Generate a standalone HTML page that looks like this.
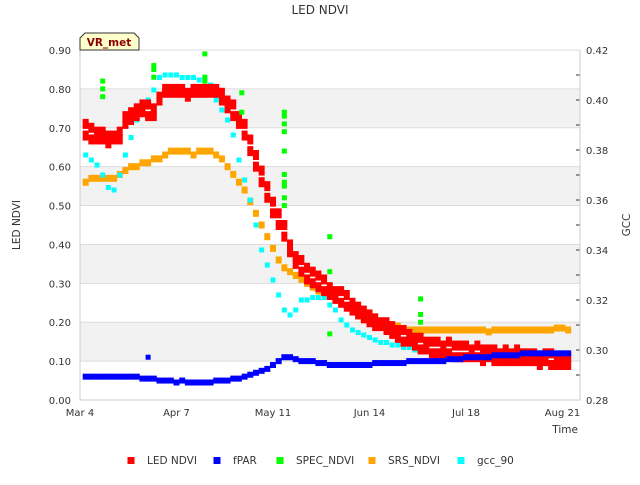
<!DOCTYPE html>
<html><head><meta charset="utf-8"><style>
body{margin:0;background:#fff;}
svg{font-family:"DejaVu Sans","Liberation Sans",sans-serif;}
</style></head><body>
<svg id="chart" width="640" height="480" viewBox="0 0 640 480">
<text x="320" y="14" text-anchor="middle" font-size="12" fill="#333">LED NDVI</text>
<g id="bands"></g>
<g id="grid"></g>
<g id="marks"></g>
<g id="axes"></g>
<text x="20" y="225" transform="rotate(-90 20 225)" text-anchor="middle" font-size="10.5" fill="#333">LED NDVI</text>
<text x="630" y="225" transform="rotate(-90 630 225)" text-anchor="middle" font-size="10.5" fill="#333">GCC</text>
<text x="578" y="433" text-anchor="end" font-size="10.5" fill="#333">Time</text>
<g>
<path d="M80,50 L80,38 L85,33 L134,33 L139,38 L139,50 Z" fill="#ffffcc" stroke="#333" stroke-width="1"/>
<text x="109" y="46" text-anchor="middle" font-size="10.5" font-weight="bold" fill="#8b0000">VR_met</text>
</g>
<g id="legend"></g>
</svg>
<script>
const ledNdvi=[null,.71,.70,.69,.69,.68,.68,.69,.73,.74,.75,.76,.76,.75,.78,.80,.80,.80,.80,.79,.80,.80,.80,.80,.80,.79,.77,.76,.73,.71,.67,.63,.59,.55,.51,.48,.45,.40,.37,.36,.34,.33,.32,.31,.29,.28,.28,.27,.25,.24,.23,.22,.21,.20,.20,.19,.18,.18,.17,.16,.16,.15,.15,.15,.14,.15,.14,.14,.14,.13,.14,.13,.13,.13,.12,.13,.12,.13,.12,.12,.12,.11,.12,.12,.11,.11,.11];
const ledNdviLow=[null,.68,.67,.67,.67,.66,.67,.67,.71,.72,.73,.74,.73,.73,.77,.79,.79,.79,.79,.78,.79,.79,.79,.79,.79,.77,.75,.73,.71,.68,.64,.60,.56,.52,.48,.45,.42,.38,.35,.33,.31,.30,.29,.28,.27,.26,.25,.24,.23,.22,.21,.20,.19,.19,.18,.17,.16,.15,.15,.14,.13,.13,.12,.12,.12,.12,.11,.11,.11,.11,.11,.10,.11,.10,.10,.10,.10,.10,.10,.10,.10,.09,.10,.09,.09,.09,.09];
const srsNdvi=[null,.56,.57,.57,.57,.57,.57,.58,.59,.60,.60,.61,.61,.62,.62,.63,.64,.64,.64,.64,.63,.64,.64,.64,.63,.62,.60,.58,.56,.54,.51,.48,.45,.42,.39,.36,.34,.33,.32,.31,.30,.29,.28,.28,.27,.26,.25,.24,.23,.22,.21,.21,.20,.20,.19,.19,.19,.18,.18,.18,.18,.18,.18,.18,.18,.18,.18,.18,.18,.18,.18,.18,.175,.18,.18,.18,.18,.18,.18,.18,.18,.18,.18,.18,.185,.185,.18];
const fpar=[null,.06,.06,.06,.06,.06,.06,.06,.06,.06,.06,.055,.055,.055,.05,.05,.05,.045,.05,.045,.045,.045,.045,.045,.05,.05,.05,.055,.055,.06,.065,.07,.075,.08,.09,.10,.11,.11,.105,.10,.10,.10,.095,.095,.09,.09,.09,.09,.09,.09,.09,.09,.095,.095,.095,.095,.095,.095,.10,.10,.10,.10,.10,.10,.10,.105,.105,.105,.11,.11,.11,.11,.11,.115,.115,.115,.115,.115,.12,.12,.12,.12,.12,.12,.12,.12,.12];
const gcc90=[null,.378,.376,.374,.370,.365,.364,.370,.378,.385,.392,.396,.400,.404,.409,.410,.410,.410,.409,.409,.409,.408,.408,.406,.400,.396,.392,.386,.376,.368,.360,.350,.340,.334,.328,.322,.316,.314,.316,.320,.320,.321,.321,.321,.318,.316,.312,.310,.308,.307,.306,.305,.304,.303,.303,.302,.302,.301,.301,.300,.301,null,null,null,null,null,null,null,null,null,null,null,null,null,null,null,null,null,null,null,null,null,null,null,null,null,null];
const specDay=[8,8,8,26,26,26,44,44,44,57,57,72,72,72,72,72,72,72,72,72,72,88,88,88,120,120,120];
const specVal=[.78,.80,.82,.83,.85,.86,.82,.83,.89,.74,.79,.50,.52,.55,.58,.64,.69,.71,.73,.74,.56,.17,.33,.42,.20,.22,.26];
const fparOutDay=[24];const fparOutVal=[.11];
const xTickLabels=["Mar 4","Apr 7","May 11","Jun 14","Jul 18","Aug 21"];
const xTickDays=[0,34,68,102,136,170];
const yTicks=[0,.1,.2,.3,.4,.5,.6,.7,.8,.9];
const y2Ticks=[.28,.30,.32,.34,.36,.38,.40,.42];

const L=80,R=580,T=50,B=400,NS='http://www.w3.org/2000/svg';
const xDay=d=>L+d*96.5/34;
const xIdx=i=>xDay(i*2);
const yL=v=>B-(v/0.9)*(B-T);
const yR=v=>B-((v-0.28)/0.14)*(B-T);
function mk(tag,attrs,parent){const e=document.createElementNS(NS,tag);for(const k in attrs)e.setAttribute(k,attrs[k]);parent.appendChild(e);return e;}
const bands=document.getElementById('bands'),grid=document.getElementById('grid'),marks=document.getElementById('marks'),axes=document.getElementById('axes'),legend=document.getElementById('legend');
[.1,.3,.5,.7].forEach(v=>{const r=mk('rect',{x:L,y:yL(v+.1),width:R-L,height:yL(v)-yL(v+.1),fill:'#f2f2f2'},bands);

});
yTicks.forEach(v=>{const l=mk('line',{x1:L,x2:R,y1:yL(v),y2:yL(v),stroke:'#dcdcdc','stroke-width':1},grid);


const t=mk('text',{x:71,y:yL(v)+4,'text-anchor':'end','font-size':10,fill:'#333'},axes);t.textContent=v.toFixed(2);

});
y2Ticks.forEach(v=>{const t=mk('text',{x:586,y:yR(v)+4,'font-size':10,fill:'#333'},axes);t.textContent=v.toFixed(2);

});
for(let v=.29;v<.42;v+=.01){const l=mk('line',{x1:R-4,x2:R,y1:yR(v),y2:yR(v),stroke:'#333'},axes);

}
xTickDays.forEach((d,i)=>{const t=mk('text',{x:xDay(d),y:416,'text-anchor':'middle','font-size':10,fill:'#333'},axes);t.textContent=xTickLabels[i];

});
const ax=mk('path',{d:`M${L},${T}V${B}H${R}V${T}`,fill:'none',stroke:'#ccc'},axes);


function pts(arr,yf,col,w,h,name){arr.forEach((v,i)=>{if(v==null)return;const r=mk('rect',{x:xIdx(i)-w/2,y:yf(v)-h/2,width:w,height:h,fill:col},marks);

});}
pts(srsNdvi,yL,'#ffa500',6,7,'srs-ndvi-point');
pts(gcc90,yR,'#00ffff',5,5,'gcc-90-point');
pts(ledNdvi,yL,'#ff0000',6,10,'led-ndvi-point');
pts(ledNdviLow,yL,'#ff0000',6,10,'led-ndvi-point');
pts(fpar,yL,'#0000ff',6,6,'fpar-point');
fparOutDay.forEach((d,i)=>{const r=mk('rect',{x:xDay(d)-2.5,y:yL(fparOutVal[i])-2.5,width:5,height:5,fill:'#0000ff'},marks);

});
specDay.forEach((d,i)=>{const r=mk('rect',{x:xDay(d)-2.5,y:yL(specVal[i])-2.5,width:5,height:5,fill:'#00ff00'},marks);

});
const leg=[['LED NDVI','#ff0000',131],['fPAR','#0000ff',217],['SPEC_NDVI','#00ff00',280],['SRS_NDVI','#ffa500',372],['gcc_90','#00ffff',461]];
leg.forEach(([n,c,x])=>{const g=mk('g',{},legend);


mk('rect',{x:x-3.5,y:457,width:7,height:7,fill:c},g);
const t=mk('text',{x:x+16,y:464,'font-size':10.5,fill:'#333'},g);t.textContent=n;});
</script>
</body></html>
